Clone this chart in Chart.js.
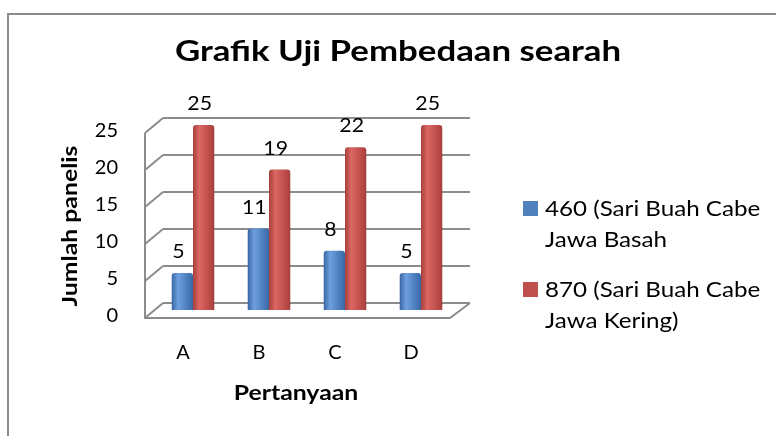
<!DOCTYPE html>
<html>
<head>
<meta charset="utf-8">
<script src="https://cdn.jsdelivr.net/npm/chart.js@4/dist/chart.umd.min.js"></script>
<style>
  html, body { margin: 0; padding: 0; background: #fff; overflow: hidden; }
  #frame { position: absolute; left: 7px; top: 13px; width: 800px; height: 460px; border: 2px solid #8c8c8c; box-sizing: border-box; }
  #wrap { position: absolute; left: 0; top: 0; width: 776px; height: 436px; }
</style>
</head>
<body>
<div id="frame"></div>
<div id="wrap"><canvas id="chart" width="776" height="436"></canvas></div>
<script>
// Chart data
const categories = ['A', 'B', 'C', 'D'];
const seriesBasah = [5, 11, 8, 5];
const seriesKering = [25, 19, 22, 25];
const seriesNames = [
  ['460 (Sari Buah Cabe', 'Jawa Basah'],
  ['870 (Sari Buah Cabe', 'Jawa Kering)']
];
const yTicks = [0, 5, 10, 15, 20, 25];
const chartTitle = 'Grafik Uji Pembedaan searah';
const xTitle = 'Pertanyaan';
const yTitle = 'Jumlah panelis';

const FONT = 'Lato, "Open Sans", sans-serif';
const BLUE = ['#3a66a4', '#6e9fe0', '#4a7cbb'];
const RED = ['#a53f3c', '#dc6763', '#bd4d4a'];
const WALL = '#8c8c8c';

// draw text a bit wider, the source picture is stretched sideways
function wideText(ctx, text, x, y, sx, align) {
  ctx.save();
  ctx.translate(x, y);
  ctx.scale(sx, 1);
  ctx.textAlign = align || 'left';
  ctx.fillText(text, 0, 0);
  ctx.restore();
}

// 3D-ish shading for the bars
const shadePlugin = {
  id: 'shade',
  beforeDatasetsDraw(chart) {
    const ctx = chart.ctx;
    chart.data.datasets.forEach((ds, i) => {
      const cols = i === 0 ? BLUE : RED;
      chart.getDatasetMeta(i).data.forEach((bar) => {
        const left = bar.x - bar.width / 2;
        const g = ctx.createLinearGradient(left, 0, left + bar.width, 0);
        g.addColorStop(0, cols[0]);
        g.addColorStop(0.3, cols[1]);
        g.addColorStop(0.75, cols[2]);
        g.addColorStop(1, cols[0]);
        bar.options.backgroundColor = g;
      });
    });
  }
};

// Back wall, side wall and floor drawn from the y scale
const wallPlugin = {
  id: 'walls',
  beforeDatasetsDraw(chart) {
    const ctx = chart.ctx;
    const y = chart.scales.y;
    const area = chart.chartArea;
    const backL = area.left + 8;
    const backR = area.right + 11;
    const frontL = backL - 18;
    ctx.save();
    ctx.strokeStyle = WALL;
    ctx.lineWidth = 2;
    yTicks.forEach((v) => {
      const yb = y.getPixelForValue(v) - 7;
      ctx.beginPath();
      ctx.moveTo(backL, yb);
      ctx.lineTo(backR, yb);
      ctx.stroke();
      ctx.beginPath();
      ctx.moveTo(backL, yb);
      ctx.lineTo(frontL, yb + 15);
      ctx.stroke();
    });
    const top = y.getPixelForValue(yTicks[yTicks.length - 1]) - 7 + 15;
    const bottom = y.getPixelForValue(0) - 7 + 15;
    ctx.beginPath();
    ctx.moveTo(frontL, top);
    ctx.lineTo(frontL, bottom);
    ctx.lineTo(backR - 20, bottom);
    ctx.lineTo(backR, bottom - 15);
    ctx.stroke();
    ctx.restore();
  }
};

// Value labels above the bars
const valuePlugin = {
  id: 'values',
  afterDatasetsDraw(chart) {
    const ctx = chart.ctx;
    ctx.save();
    ctx.font = '19px ' + FONT;
    ctx.fillStyle = '#000';
    ctx.textBaseline = 'middle';
    chart.data.datasets.forEach((ds, i) => {
      chart.getDatasetMeta(i).data.forEach((bar, j) => {
        wideText(ctx, String(ds.data[j]), bar.x - 4, bar.y - 21, 1.12, 'center');
      });
    });
    ctx.restore();
  }
};

// Title, axis titles and the legend on the right
const textPlugin = {
  id: 'texts',
  afterDraw(chart) {
    const ctx = chart.ctx;
    const area = chart.chartArea;
    ctx.save();
    ctx.fillStyle = '#000';
    ctx.textBaseline = 'alphabetic';
    ctx.font = 'bold 29px ' + FONT;
    wideText(ctx, chartTitle, 398, 61, 1.2, 'center');

    ctx.font = 'bold 21px ' + FONT;
    wideText(ctx, xTitle, 296, 400, 1.18, 'center');

    ctx.save();
    ctx.translate(77, 226);
    ctx.rotate(-Math.PI / 2);
    ctx.scale(1.18, 1);
    ctx.textAlign = 'center';
    ctx.fillText(yTitle, 0, 0);
    ctx.restore();

    ctx.font = '21px ' + FONT;
    const tops = [201, 282];
    seriesNames.forEach((lines, i) => {
      ctx.fillStyle = i === 0 ? '#4f81bd' : '#c0504d';
      ctx.fillRect(523, tops[i], 15, 15);
      ctx.fillStyle = '#000';
      lines.forEach((t, k) => {
        wideText(ctx, t, 545, tops[i] + 15 + k * 31, 1.15, 'left');
      });
    });
    ctx.restore();
  }
};

new Chart(document.getElementById('chart'), {
  type: 'bar',
  data: {
    labels: categories,
    datasets: [
      {
        label: seriesNames[0].join(' '),
        data: seriesBasah,
        backgroundColor: () => BLUE[2],
        barPercentage: 1,
        categoryPercentage: 0.56,
        borderRadius: { topLeft: 3, topRight: 3 },
        borderSkipped: 'bottom'
      },
      {
        label: seriesNames[1].join(' '),
        data: seriesKering,
        backgroundColor: () => RED[2],
        barPercentage: 1,
        categoryPercentage: 0.56,
        borderRadius: { topLeft: 3, topRight: 3 },
        borderSkipped: 'bottom'
      }
    ]
  },
  options: {
    responsive: false,
    animation: false,
    layout: { padding: { left: 26, right: 317, top: 125, bottom: 0 } },
    plugins: {
      legend: { display: false },
      tooltip: { enabled: false },
      title: { display: false }
    },
    scales: {
      x: {
        afterFit(scale) { scale.height = 126; },
        grid: { display: false, drawTicks: false },
        border: { display: false },
        ticks: {
          color: '#000',
          font: { family: FONT, size: 20 },
          padding: 31,
          labelOffset: -10
        }
      },
      y: {
        min: 0,
        max: 25,
        afterFit(scale) { scale.width = 129; },
        afterBuildTicks(scale) { scale.ticks = yTicks.map((v) => ({ value: v })); },
        grid: { display: false, drawTicks: false },
        border: { display: false },
        ticks: {
          color: '#000',
          font: { family: FONT, size: 20 },
          padding: 37,
          labelOffset: 6
        }
      }
    }
  },
  plugins: [wallPlugin, shadePlugin, valuePlugin, textPlugin]
});
</script>
</body>
</html>
